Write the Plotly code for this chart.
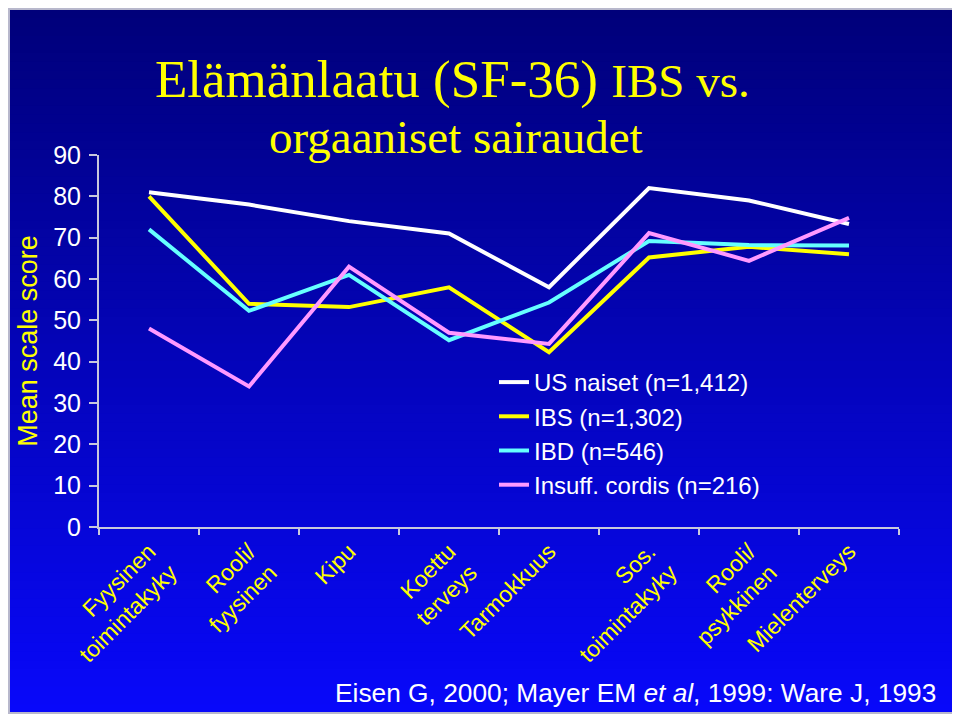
import plotly.graph_objects as go

categories = ["Fyysinen<br>toimintakyky", "Rooli/<br>fyysinen", "Kipu", "Koettu<br>terveys",
              "Tarmokkuus", "Sos.<br>toimintakyky", "Rooli/<br>psykkinen", "Mielenterveys"]
us_naiset = [81, 78, 74, 71, 58, 82, 79, 73.3]
ibs = [80, 54, 53.2, 58, 42.3, 65.2, 67.8, 66]
ibd = [72, 52.3, 61, 45.2, 54.3, 69.2, 68.2, 68.1]
insuff_cordis = [48, 34, 63, 47, 44.3, 71.1, 64.4, 74.8]

series_names = ["US naiset (n=1,412)", "IBS (n=1,302)", "IBD (n=546)", "Insuff. cordis (n=216)"]
series_values = [us_naiset, ibs, ibd, insuff_cordis]
series_colors = ["#ffffff", "#ffff00", "#66ffff", "#ff99ff"]
y_ticks = [0, 10, 20, 30, 40, 50, 60, 70, 80, 90]

# page is offset by the 8px body margin
OFF = 8
W, H = 960 - OFF, 716 - OFF
L, R, T, B = 99 - OFF, 960 - 899, 155 - OFF, 716 - 527
PW, PH = W - L - R, H - T - B


def px(x):  # page pixel -> paper
    return (x - OFF - L) / PW


def py(y):  # page pixel -> paper
    return (H - B - (y - OFF)) / PH


fig = go.Figure()
for name, vals, col in zip(series_names, series_values, series_colors):
    fig.add_trace(go.Scatter(x=categories, y=vals, mode="lines", name=name,
                             line=dict(color=col, width=4)))

# background gradient bands
shapes = []
top_px, bot_px = 9, 713
n = 80
c0 = (0, 0, 122)
c1 = (8, 8, 250)
for i in range(n):
    t = i / (n - 1)
    y0 = top_px + (bot_px - top_px) * i / n
    y1 = top_px + (bot_px - top_px) * (i + 1) / n + 1
    c = tuple(int(round(a + (b - a) * t)) for a, b in zip(c0, c1))
    shapes.append(dict(type="rect", xref="paper", yref="paper", layer="below",
                       x0=px(9), x1=px(956), y0=py(min(y1, bot_px)), y1=py(y0),
                       fillcolor="rgb(%d,%d,%d)" % c, line=dict(width=0)))
shapes.append(dict(type="rect", xref="paper", yref="paper", layer="below",
                   x0=px(9), x1=px(956), y0=py(713), y1=py(9),
                   fillcolor="rgba(0,0,0,0)", line=dict(color="#b8b8cc", width=2)))

annotations = [
    dict(text="Elämänlaatu (SF-36) <span style='font-size:47px'>IBS vs.</span>",
         xref="paper", yref="paper", x=px(452), y=py(80), xanchor="center", yanchor="middle",
         showarrow=False, font=dict(family="Liberation Serif", size=53, color="#ffff00")),
    dict(text="orgaaniset sairaudet",
         xref="paper", yref="paper", x=px(456), y=py(137), xanchor="center", yanchor="middle",
         showarrow=False, font=dict(family="Liberation Serif", size=47, color="#ffff00")),
    dict(text="Eisen G, 2000; Mayer EM <i>et al</i>, 1999: Ware J, 1993",
         xref="paper", yref="paper", x=px(938), y=py(693), xanchor="right", yanchor="middle",
         showarrow=False, font=dict(family="Liberation Sans", size=26.3, color="#ffffff")),
]

axis_col = "#c8c8dc"
fig.update_layout(
    template="none",
    width=W, height=H,
    margin=dict(l=L, r=R, t=T, b=B, autoexpand=False),
    paper_bgcolor="#ffffff",
    plot_bgcolor="rgba(0,0,0,0)",
    shapes=shapes,
    annotations=annotations,
    showlegend=True,
    legend=dict(x=px(494), y=py(360), xanchor="left", yanchor="top",
                bgcolor="rgba(0,0,0,0)", borderwidth=0,
                font=dict(family="Liberation Sans", size=24, color="#ffffff"),
                tracegroupgap=0, itemwidth=30),
    xaxis=dict(type="category", categoryorder="array", categoryarray=categories,
               range=[-0.5, len(categories) - 0.5], tickson="boundaries",
               showline=True, linecolor=axis_col, linewidth=2,
               ticks="outside", ticklen=6, tickwidth=2, tickcolor=axis_col,
               tickangle=-45, showgrid=False, zeroline=False, automargin=False,
               tickfont=dict(family="Liberation Sans", size=23, color="#ffff00")),
    yaxis=dict(range=[0, 90], tickvals=y_ticks, showline=True, linecolor=axis_col, linewidth=2,
               ticks="outside", ticklen=8, tickwidth=2, tickcolor=axis_col,
               showgrid=False, zeroline=False, automargin=False, ticklabelstandoff=3,
               tickfont=dict(family="Liberation Sans", size=25, color="#ffffff"),
               title=dict(text="Mean scale score", standoff=8,
                          font=dict(family="Liberation Sans", size=27, color="#ffff00"))),
)

fig.write_html("out.html")
